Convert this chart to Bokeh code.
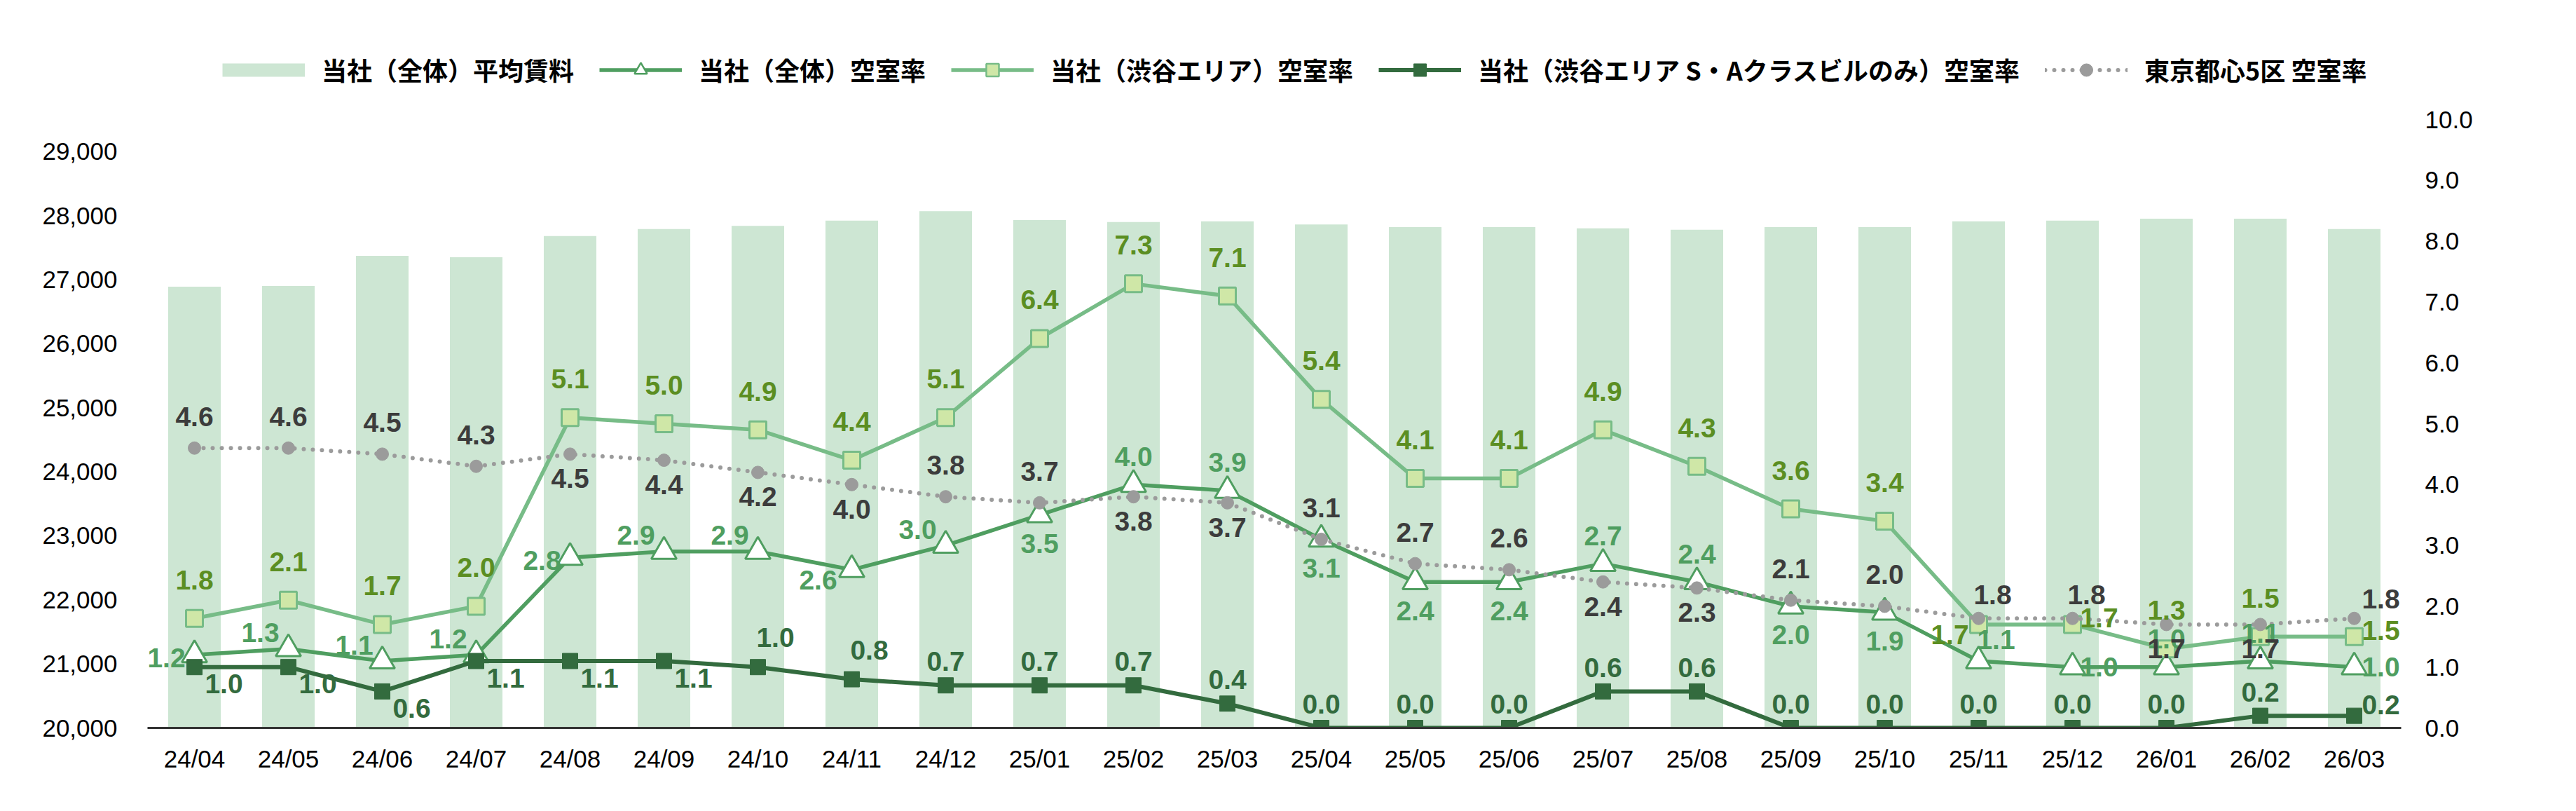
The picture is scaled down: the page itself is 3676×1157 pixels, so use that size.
from bokeh.plotting import figure
from bokeh.layouts import column
from bokeh.models import (ColumnDataSource, Range1d, LinearAxis, FixedTicker,
                          NumeralTickFormatter, PrintfTickFormatter, LabelSet,
                          Legend, LegendItem)
from bokeh.core.properties import value
from bokeh.embed import file_html
from bokeh.resources import INLINE

# ---------------- data ----------------
months = ["24/04", "24/05", "24/06", "24/07", "24/08", "24/09", "24/10", "24/11",
          "24/12", "25/01", "25/02", "25/03", "25/04", "25/05", "25/06", "25/07",
          "25/08", "25/09", "25/10", "25/11", "25/12", "26/01", "26/02", "26/03"]

avg_rent = [26890, 26900, 27370, 27350, 27680, 27790, 27840, 27920,
            28070, 27930, 27900, 27910, 27860, 27820, 27820, 27800,
            27780, 27820, 27820, 27910, 27920, 27950, 27950, 27790]

vac_overall = [1.2, 1.3, 1.1, 1.2, 2.8, 2.9, 2.9, 2.6,
               3.0, 3.5, 4.0, 3.9, 3.1, 2.4, 2.4, 2.7,
               2.4, 2.0, 1.9, 1.1, 1.0, 1.0, 1.1, 1.0]

vac_shibuya = [1.8, 2.1, 1.7, 2.0, 5.1, 5.0, 4.9, 4.4,
               5.1, 6.4, 7.3, 7.1, 5.4, 4.1, 4.1, 4.9,
               4.3, 3.6, 3.4, 1.7, 1.7, 1.3, 1.5, 1.5]

vac_shibuya_sa = [1.0, 1.0, 0.6, 1.1, 1.1, 1.1, 1.0, 0.8,
                  0.7, 0.7, 0.7, 0.4, 0.0, 0.0, 0.0, 0.6,
                  0.6, 0.0, 0.0, 0.0, 0.0, 0.0, 0.2, 0.2]

vac_tokyo5 = [4.6, 4.6, 4.5, 4.3, 4.5, 4.4, 4.2, 4.0,
              3.8, 3.7, 3.8, 3.7, 3.1, 2.7, 2.6, 2.4,
              2.3, 2.1, 2.0, 1.8, 1.8, 1.7, 1.7, 1.8]

left_ticks = [20000, 21000, 22000, 23000, 24000, 25000, 26000, 27000, 28000, 29000]
right_ticks = [0, 1, 2, 3, 4, 5, 6, 7, 8, 9, 10]

names = ["当社（全体）平均賃料", "当社（全体）空室率", "当社（渋谷エリア）空室率",
         "当社（渋谷エリア S・Aクラスビルのみ）空室率", "東京都心5区 空室率"]

# ---------------- label placement (style) ----------------
pos_overall = ["l", "al", "al", "al", "l", "al", "al", "bl", "al", "b", "a", "a",
               "b", "b", "b", "a", "a", "b", "b", "ar", "r", "a", "a", "r"]
pos_shibuya = ["a", "a", "a", "a", "a", "a", "a", "a", "a", "a", "a", "a",
               "a", "a", "a", "a", "a", "a", "a", "l", "r", "a", "a", "r"]
pos_sa = ["br", "br", "br", "br", "br", "br", "ar", "ar", "a", "a", "a", "a",
          "a", "a", "a", "a", "a", "a", "a", "a", "a", "a", "a", "r"]
pos_tokyo = ["a", "a", "a", "a", "b", "b", "b", "b", "a", "a", "b", "b",
             "a", "a", "a", "b", "b", "a", "a", "ar", "ar", "b", "b", "r"]

off_overall = {"a": (0, 40), "b": (0, -41), "l": (-40, -4), "al": (-40, 23),
               "bl": (-48, -15), "ar": (25, 31), "r": (38, 0)}
off_shibuya = {"a": (0, 55), "l": (-41, -15), "r": (38, 9)}
off_sa = {"a": (0, 34), "br": (42, -24), "ar": (25, 42), "r": (38, 16)}
off_tokyo = {"a": (0, 45), "b": (0, -35), "ar": (20, 34), "r": (38, 28)}

# ---------------- colours ----------------
BAR = "#cde6d3"
C_OVERALL = "#4f9e60"
C_SHIB_LINE = "#77bc87"
C_SHIB_FILL = "#cfe7a7"
C_SHIB_LABEL = "#5b8e22"
C_SA = "#336b3e"
C_TOKYO = "#9b9b9b"
C_TOKYO_LABEL = "#3c3c3c"

FONT = "Liberation Sans"
W = 3660

# ---------------- main chart ----------------
p = figure(x_range=months, y_range=Range1d(20000, 29500),
           width=W, height=1010, output_backend="svg", toolbar_location=None,
           min_border_left=210, min_border_right=234, min_border_top=40,
           min_border_bottom=102)
p.extra_y_ranges = {"rate": Range1d(0, 10)}
p.outline_line_color = None
p.xgrid.visible = False
p.ygrid.visible = False
p.background_fill_color = "white"
p.border_fill_color = "white"

p.vbar(x=months, top=avg_rent, bottom=20000, width=0.56,
       fill_color=BAR, line_color=None)

p.line(months, vac_overall, y_range_name="rate", line_color=C_OVERALL,
       line_width=5.5, line_join="round", line_cap="round")
p.scatter(months, vac_overall, y_range_name="rate", marker="triangle",
          size=36, fill_color="white", line_color=C_OVERALL, line_width=3)

p.line(months, vac_shibuya, y_range_name="rate", line_color=C_SHIB_LINE,
       line_width=5.5, line_join="round", line_cap="round")
p.scatter(months, vac_shibuya, y_range_name="rate", marker="square",
          size=24, fill_color=C_SHIB_FILL, line_color=C_SHIB_LINE, line_width=3)

p.line(months, vac_shibuya_sa, y_range_name="rate", line_color=C_SA,
       line_width=6, line_join="round", line_cap="round")
p.scatter(months, vac_shibuya_sa, y_range_name="rate", marker="square",
          size=22, fill_color=C_SA, line_color=C_SA)

p.line(months, vac_tokyo5, y_range_name="rate", line_color=C_TOKYO,
       line_width=6, line_dash="0 13", line_cap="round")
p.scatter(months, vac_tokyo5, y_range_name="rate", marker="circle",
          size=18, fill_color=C_TOKYO, line_color=C_TOKYO)


def add_labels(vals, pos, offs, color):
    src = ColumnDataSource(dict(
        x=months, y=vals, t=["%.1f" % v for v in vals],
        dx=[offs[c][0] for c in pos], dy=[offs[c][1] for c in pos]))
    ls = LabelSet(x="x", y="y", text="t", source=src, y_range_name="rate",
                  x_offset="dx", y_offset="dy", text_align="center",
                  text_baseline="middle", text_font=value(FONT),
                  text_font_size="39px", text_font_style="bold", text_color=color)
    p.add_layout(ls)


add_labels(vac_overall, pos_overall, off_overall, C_OVERALL)
add_labels(vac_shibuya, pos_shibuya, off_shibuya, C_SHIB_LABEL)
add_labels(vac_shibuya_sa, pos_sa, off_sa, C_SA)
add_labels(vac_tokyo5, pos_tokyo, off_tokyo, C_TOKYO_LABEL)

xa = p.xaxis[0]
xa.axis_line_color = "#333333"
xa.axis_line_width = 3
xa.major_tick_line_color = None
xa.minor_tick_line_color = None
xa.major_tick_out = 0
xa.major_tick_in = 0
xa.major_label_standoff = 24
xa.major_label_text_font = FONT
xa.major_label_text_font_size = "35px"
xa.major_label_text_color = "black"

ya = p.yaxis[0]
ya.ticker = FixedTicker(ticks=left_ticks)
ya.formatter = NumeralTickFormatter(format="0,0")
ya.axis_line_color = None
ya.major_tick_line_color = None
ya.minor_tick_line_color = None
ya.major_tick_out = 0
ya.major_tick_in = 0
ya.major_label_standoff = 43
ya.major_label_text_font = FONT
ya.major_label_text_font_size = "35px"
ya.major_label_text_color = "black"

ra = LinearAxis(y_range_name="rate", ticker=FixedTicker(ticks=right_ticks),
                formatter=PrintfTickFormatter(format="%.1f"))
ra.axis_line_color = None
ra.major_tick_line_color = None
ra.minor_tick_line_color = None
ra.major_tick_out = 0
ra.major_tick_in = 0
ra.major_label_standoff = 34
ra.major_label_text_font = FONT
ra.major_label_text_font_size = "35px"
ra.major_label_text_color = "black"
p.add_layout(ra, "right")

# ---------------- legend strip (separate figure, same styles) ----------------
lg = figure(x_range=months, y_range=Range1d(-200, -199), width=W, height=130,
            output_backend="svg", toolbar_location=None,
            x_axis_location=None, y_axis_location=None,
            min_border_left=0, min_border_right=0, min_border_top=0,
            min_border_bottom=0)
lg.outline_line_color = None
lg.xgrid.visible = False
lg.ygrid.visible = False

r_sw = lg.line(months, avg_rent, line_color=BAR, line_width=19, line_cap="butt")
r1 = lg.line(months, vac_overall, line_color=C_OVERALL, line_width=5.5)
r1m = lg.scatter(months, vac_overall, marker="triangle", fill_color="white",
                 line_color=C_OVERALL, line_width=2.5)
r2 = lg.line(months, vac_shibuya, line_color=C_SHIB_LINE, line_width=5.5)
r2m = lg.scatter(months, vac_shibuya, marker="square", fill_color=C_SHIB_FILL,
                 line_color=C_SHIB_LINE, line_width=2.5)
r3 = lg.line(months, vac_shibuya_sa, line_color=C_SA, line_width=6)
r3m = lg.scatter(months, vac_shibuya_sa, marker="square", fill_color=C_SA,
                 line_color=C_SA)
r4 = lg.line(months, vac_tokyo5, line_color=C_TOKYO, line_width=6,
             line_dash="0 13", line_cap="round")
r4m = lg.scatter(months, vac_tokyo5, marker="circle", fill_color=C_TOKYO,
                 line_color=C_TOKYO)

legend = Legend(items=[
    LegendItem(label=names[0], renderers=[r_sw]),
    LegendItem(label=names[1], renderers=[r1, r1m]),
    LegendItem(label=names[2], renderers=[r2, r2m]),
    LegendItem(label=names[3], renderers=[r3, r3m]),
    LegendItem(label=names[4], renderers=[r4, r4m]),
], orientation="horizontal", location=(107, 5))
legend.glyph_width = 118
legend.glyph_height = 45
legend.label_standoff = 24
legend.spacing = 36
legend.padding = 0
legend.margin = 0
legend.border_line_color = None
legend.background_fill_alpha = 0
legend.label_text_font = "Noto Sans CJK JP"
legend.label_text_font_style = "bold"
legend.label_text_font_size = "36px"
legend.label_text_color = "black"
legend.label_height = 45
lg.add_layout(legend, "center")

layout = column(lg, p, spacing=0)
open("out.html", "w").write(file_html(layout, INLINE))
